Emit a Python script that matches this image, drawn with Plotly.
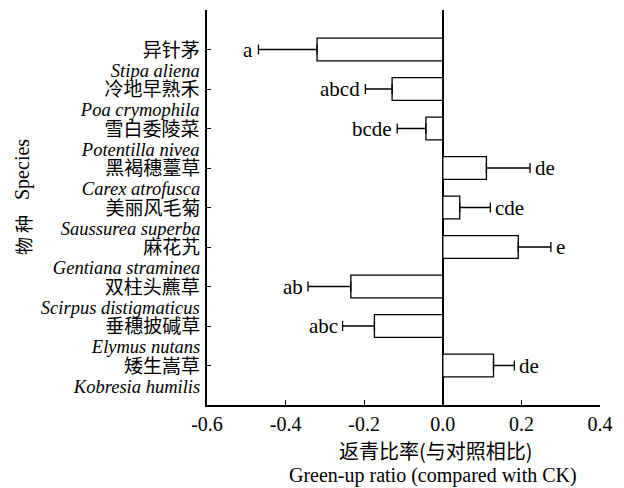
import plotly.graph_objects as go

species_cn = ["异针茅", "冷地早熟禾", "雪白委陵菜", "黑褐穗薹草", "美丽风毛菊",
              "麻花艽", "双柱头藨草", "垂穗披碱草", "矮生嵩草"]
species_lat = ["Stipa aliena", "Poa crymophila", "Potentilla nivea", "Carex atrofusca",
               "Saussurea superba", "Gentiana straminea", "Scirpus distigmaticus",
               "Elymus nutans", "Kobresia humilis"]
ratio = [-0.320, -0.129, -0.043, 0.111, 0.043, 0.192, -0.234, -0.174, 0.129]
err = [0.149, 0.068, 0.073, 0.111, 0.078, 0.083, 0.109, 0.081, 0.053]
letters = ["a", "abcd", "bcde", "de", "cde", "e", "ab", "abc", "de"]
x_tickvals = [-0.6, -0.4, -0.2, 0.0, 0.2, 0.4]
x_ticktext = ["-0.6", "-0.4", "-0.2", "0.0", "0.2", "0.4"]

err_plus = [e if v > 0 else 0 for v, e in zip(ratio, err)]
err_minus = [e if v < 0 else 0 for v, e in zip(ratio, err)]

SERIF = "Liberation Serif"
CJK = "Noto Sans CJK SC"

fig = go.Figure()
fig.add_trace(go.Bar(
    x=ratio, y=species_lat, orientation="h",
    marker=dict(color="white", line=dict(color="black", width=1.3)),
    width=0.58,
    error_x=dict(type="data", symmetric=False, array=err_plus, arrayminus=err_minus,
                 color="black", thickness=1.3, width=5),
    showlegend=False, hoverinfo="skip",
))

annotations = []
for cn, lat, v, e, lab in zip(species_cn, species_lat, ratio, err, letters):
    label = (f"\u00a0<span style='font-family:{CJK};font-size:19px'>{cn}</span><br>"
             f"\u00a0<span style='font-size:18.5px'><i>{lat}</i></span>")
    annotations.append(dict(x=0, xref="paper", y=lat, yref="y", text=label,
                            xanchor="right", yanchor="middle", align="right",
                            xshift=-6, yshift=-8, borderpad=0, showarrow=False,
                            font=dict(family=SERIF, size=15.4, color="black")))
    end = v + e if v > 0 else v - e
    annotations.append(dict(x=end, xref="x", y=lat, yref="y", text=lab,
                            xanchor="left" if v > 0 else "right", yanchor="middle",
                            xshift=3 if v > 0 else -3, showarrow=False,
                            font=dict(family=SERIF, size=21, color="black")))

annotations.append(dict(x=0, xref="paper", y=(405 - 170) / 395, yref="paper", text="Species",
                        textangle=-90, xanchor="center", yanchor="middle", xshift=-185,
                        showarrow=False, font=dict(family=SERIF, size=20, color="black")))
annotations.append(dict(x=0, xref="paper", y=(405 - 235) / 395, yref="paper", text="物 种",
                        textangle=-90, xanchor="center", yanchor="middle", xshift=-184,
                        showarrow=False, font=dict(family=CJK, size=18, color="black")))
annotations.append(dict(x=0.583, xref="paper", y=0, yref="paper", text="返青比率(与对照相比)",
                        xanchor="center", yanchor="middle", yshift=-45, showarrow=False,
                        font=dict(family=CJK, size=20, color="black")))
annotations.append(dict(x=0.575, xref="paper", y=0, yref="paper",
                        text="Green-up ratio (compared with CK)",
                        xanchor="center", yanchor="middle", yshift=-70, showarrow=False,
                        font=dict(family=SERIF, size=20, color="black")))

fig.update_layout(
    width=616, height=480,
    margin=dict(l=199, r=24, t=2, b=83),
    paper_bgcolor="white", plot_bgcolor="white",
    annotations=annotations,
    xaxis=dict(range=[-0.6, 0.4], tickvals=x_tickvals, ticktext=x_ticktext,
               showline=True, linecolor="black", linewidth=1.5,
               ticks="inside", ticklen=5, tickcolor="black", tickwidth=1.2,
               showgrid=False, zeroline=True, zerolinecolor="black", zerolinewidth=1.5,
               tickfont=dict(family=SERIF, size=20, color="black")),
    yaxis=dict(type="category", categoryorder="array", categoryarray=species_lat,
               range=[9, -1], showline=True, linecolor="black", linewidth=1.5,
               ticks="inside", ticklen=4, tickcolor="black", tickwidth=1.2,
               showgrid=False, zeroline=False, showticklabels=False),
)

fig.write_html("out.html")
